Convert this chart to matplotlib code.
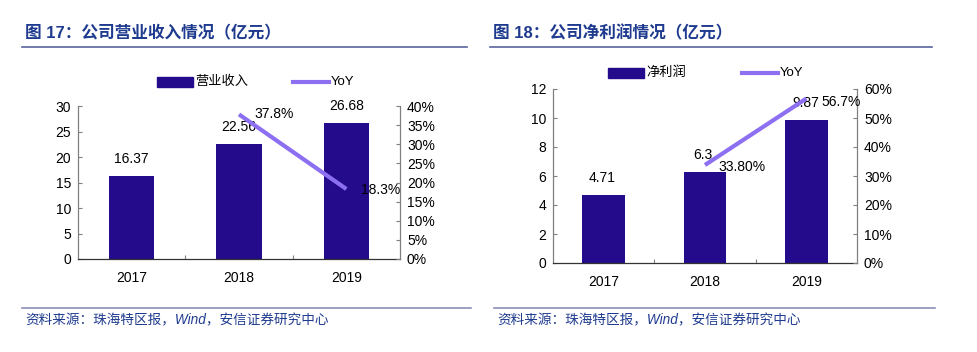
import matplotlib
matplotlib.use("Agg")
import matplotlib.pyplot as plt
from matplotlib.ticker import FuncFormatter, MultipleLocator

plt.rcParams['font.family'] = ['Liberation Sans', 'Noto Sans CJK SC', 'DejaVu Sans']

years = ["2017", "2018", "2019"]
revenue = [16.37, 22.56, 26.68]
revenue_yoy = [None, 37.8, 18.3]
profit = [4.71, 6.3, 9.87]
profit_yoy = [None, 33.8, 56.7]
profit_labels = ["4.71", "6.3", "9.87"]
profit_yoy_labels = [None, "33.80%", "56.7%"]

BAR = "#230b8c"
LINE = "#8d6ff2"
NAVY = "#1f3b8f"
AXIS = "#808080"

W, H = 977, 352
fig = plt.figure(figsize=(W / 100, H / 100), dpi=100)


def px(x0, y0, x1, y1):
    # pixel box (top-left origin) -> figure fraction
    return [x0 / W, 1 - y1 / H, (x1 - x0) / W, (y1 - y0) / H]


def panel(box, vals, vlabels, yoy, ylabels, ymax, ystep, pmax, pstep,
          bar_off, yoy_off, leg_x, bar_name):
    ax = fig.add_axes(px(*box))
    x = range(len(years))
    ax.bar(x, vals, width=0.42, color=BAR, zorder=2)
    ax.set_xlim(-0.5, 2.5)
    ax.set_ylim(0, ymax)
    ax.yaxis.set_major_locator(MultipleLocator(ystep))
    ax.set_xticks([0.5, 1.5])
    ax.set_xticklabels([])
    ax.set_xticks(list(x), minor=True)
    ax.set_xticklabels(years, minor=True)
    ax.tick_params(axis='x', which='minor', length=0, pad=9, labelsize=10)
    ax.tick_params(axis='x', which='major', length=3, direction='in',
                   color=AXIS)
    ax.tick_params(axis='y', length=3, direction='in', labelsize=10, pad=5,
                   color=AXIS)
    ax.spines['top'].set_visible(False)
    ax.spines['right'].set_visible(False)
    for s in ('left', 'bottom'):
        ax.spines[s].set_color(AXIS)
        ax.spines[s].set_linewidth(0.9)
    ax.spines['bottom'].set_color('#333333')
    for i, v in enumerate(vals):
        ax.annotate(vlabels[i], (i, v), xytext=(bar_off[i], 10),
                    textcoords='offset pixels', ha='center', va='bottom',
                    fontsize=10)

    ax2 = ax.twinx()
    ax2.set_ylim(0, pmax)
    ax2.yaxis.set_major_locator(MultipleLocator(pstep))
    ax2.yaxis.set_major_formatter(FuncFormatter(lambda v, p: f"{v:.0f}%"))
    ax2.tick_params(axis='y', length=3, direction='in', labelsize=10, pad=5,
                    color=AXIS)
    for s in ('top', 'left', 'bottom'):
        ax2.spines[s].set_visible(False)
    ax2.spines['right'].set_color(AXIS)
    ax2.spines['right'].set_linewidth(0.9)
    xi = [i for i, v in enumerate(yoy) if v is not None]
    yv = [yoy[i] for i in xi]
    ax2.plot(xi, yv, color=LINE, lw=3, solid_capstyle='butt', zorder=3)
    for i in xi:
        ax2.annotate(ylabels[i], (i, yoy[i]), xytext=yoy_off[i],
                     textcoords='offset pixels', ha='left', va='center',
                     fontsize=10)

    # legend drawn by hand in figure pixels
    ly = leg_x[2]
    fig.patches.append(plt.Rectangle(((leg_x[0]) / W, 1 - (ly + 5) / H),
                                     36 / W, 10 / H, color=BAR,
                                     transform=fig.transFigure))
    fig.text((leg_x[0] + 38) / W, 1 - ly / H, bar_name, fontsize=9.5,
             va='center', ha='left')
    fig.lines.append(plt.Line2D([leg_x[1] / W, (leg_x[1] + 36) / W],
                                [1 - ly / H, 1 - ly / H], color=LINE, lw=3,
                                transform=fig.transFigure))
    fig.text((leg_x[1] + 38) / W, 1 - ly / H, "YoY", fontsize=9.5,
             va='center', ha='left')
    return ax


def header(x0, x1, title):
    fig.text((x0 + 3) / W, 1 - 33 / H, title, fontsize=12, fontweight='bold',
             color=NAVY, va='center', ha='left')
    fig.lines.append(plt.Line2D([x0 / W, x1 / W], [1 - 47 / H, 1 - 47 / H],
                                color='#5a63a0', lw=1.2,
                                transform=fig.transFigure))


def footer(x0, x1):
    fig.lines.append(plt.Line2D([x0 / W, x1 / W], [1 - 308 / H, 1 - 308 / H],
                                color='#8a90b8', lw=1.2,
                                transform=fig.transFigure))
    fig.text((x0 + 3) / W, 1 - 320 / H,
             "资料来源：珠海特区报，Wind，安信证券研究中心",
             fontsize=9.8, style='italic', color=NAVY, va='center', ha='left')


header(22, 467, "图 17：公司营业收入情况（亿元）")
header(490, 932, "图 18：公司净利润情况（亿元）")

panel((78, 106, 400, 259), revenue, [f"{v:.2f}" for v in revenue],
      revenue_yoy, [None, "37.8%", "18.3%"], 30, 5, 40, 5,
      [0, 0, 0], [None, (15, 0), (15, -1)], (157, 293, 82), "营业收入")

panel((553, 89, 857, 263), profit, profit_labels,
      profit_yoy, profit_yoy_labels, 12, 2, 60, 10,
      [-2, -2, -1], [None, (13, -2), (15, -3)], (608, 742, 73), "净利润")

footer(22, 471)
footer(494, 935)

fig.savefig("out.png", dpi=100)
